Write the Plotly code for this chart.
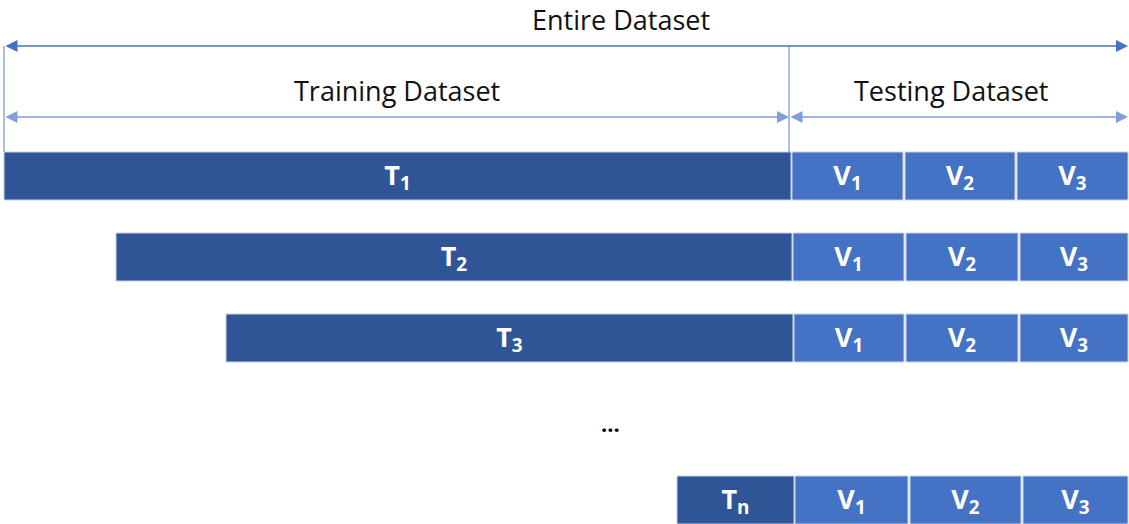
import plotly.graph_objects as go

# ---- data ----
rows = ["T<sub>1</sub>", "T<sub>2</sub>", "T<sub>3</sub>", "T<sub>n</sub>"]
train_start = [4, 116, 226, 677]
train_end = [791, 792, 793, 794]
fold_labels = ["V<sub>1</sub>", "V<sub>2</sub>", "V<sub>3</sub>"]
v2_start = [905, 906, 906, 910]
v3_start = [1017, 1020, 1020, 1023]
data_end = 1128
dataset_start = 4
split_point = 789
header_labels = ["Entire Dataset", "Training Dataset", "Testing Dataset"]

# ---- layout helpers ----
W, H = 1129, 524
row_slot = [0, 1, 2, 4]          # slot 3 holds the ellipsis
slot_px0, slot_step = 176, 81    # pixel centre of slot 0, pixel spacing

def py(p):  # pixel y -> slot units
    return (p - slot_px0) / slot_step

DARK = "#2F5597"
LIGHT = "#4472C4"
EDGE = "#C5D3EC"
FONT = "Open Sans"

fig = go.Figure()

fig.add_trace(go.Bar(
    orientation="h", y=row_slot,
    base=train_start,
    x=[e - s for s, e in zip(train_start, train_end)],
    width=48 / slot_step,
    marker=dict(color=DARK, line=dict(color=EDGE, width=1)),
    text=rows, textposition="inside", insidetextanchor="middle",
    textfont=dict(color="white", size=27, family=FONT, weight="bold"),
    constraintext="none", hoverinfo="skip", showlegend=False,
))

fold_starts = [
    [e + 1 for e in train_end],
    v2_start,
    v3_start,
]
fold_ends = [
    [s - 2 for s in v2_start],
    [s - 2 for s in v3_start],
    [data_end] * len(rows),
]
for lab, fs, fe in zip(fold_labels, fold_starts, fold_ends):
    fig.add_trace(go.Bar(
        orientation="h", y=row_slot, base=fs,
        x=[e - s for s, e in zip(fs, fe)],
        width=48 / slot_step,
        marker=dict(color=LIGHT, line=dict(color=EDGE, width=1)),
        text=[lab] * len(rows), textposition="inside", insidetextanchor="middle",
        textfont=dict(color="white", size=27, family=FONT, weight="bold"),
        constraintext="none", hoverinfo="skip", showlegend=False,
    ))

# ellipsis row
fig.add_annotation(x=(train_start[-1] + train_end[-1]) / 2 - 125, y=py(423), text="<b>...</b>",
                   showarrow=False, font=dict(size=22, color="black", family=FONT))

# headers
top_y, mid_y = py(46), py(117)
fig.add_annotation(x=(dataset_start + data_end) / 2 + 55, y=py(19), text=header_labels[0],
                   showarrow=False, borderpad=0, font=dict(size=27, color="#111", family=FONT))
fig.add_annotation(x=(dataset_start + split_point) / 2, y=py(90), text=header_labels[1],
                   showarrow=False, font=dict(size=27, color="#111", family=FONT))
fig.add_annotation(x=(split_point + data_end) / 2 - 8, y=py(90), text=header_labels[2],
                   showarrow=False, font=dict(size=27, color="#111", family=FONT))

# vertical boundary lines
for xv in [dataset_start, split_point]:
    fig.add_shape(type="line", x0=xv, x1=xv, y0=top_y, y1=py(152),
                  line=dict(color="#8FAADC", width=1.5))

# double arrows
def darrow(x0, x1, y, col):
    fig.add_annotation(x=x1, y=y, ax=x0, ay=y, xref="x", yref="y", axref="x", ayref="y",
                       showarrow=True, arrowhead=2, startarrowhead=2, arrowside="end+start",
                       arrowsize=1.6, startarrowsize=1.6, arrowwidth=1.5, arrowcolor=col, text="")

darrow(dataset_start, data_end, top_y, LIGHT)
darrow(dataset_start, split_point, mid_y, "#7F9FD8")
darrow(split_point, data_end, mid_y, "#7F9FD8")

fig.update_layout(
    width=W, height=H, margin=dict(l=0, r=0, t=0, b=0),
    paper_bgcolor="white", plot_bgcolor="white",
    barmode="overlay",
    xaxis=dict(range=[0, W], visible=False, fixedrange=True),
    yaxis=dict(range=[py(H), py(0)], visible=False, fixedrange=True),
    font=dict(family=FONT),
)

fig.write_html("out.html", config={"displayModeBar": False},
               post_script="document.body.style.margin='0';document.body.style.overflow='hidden';")
